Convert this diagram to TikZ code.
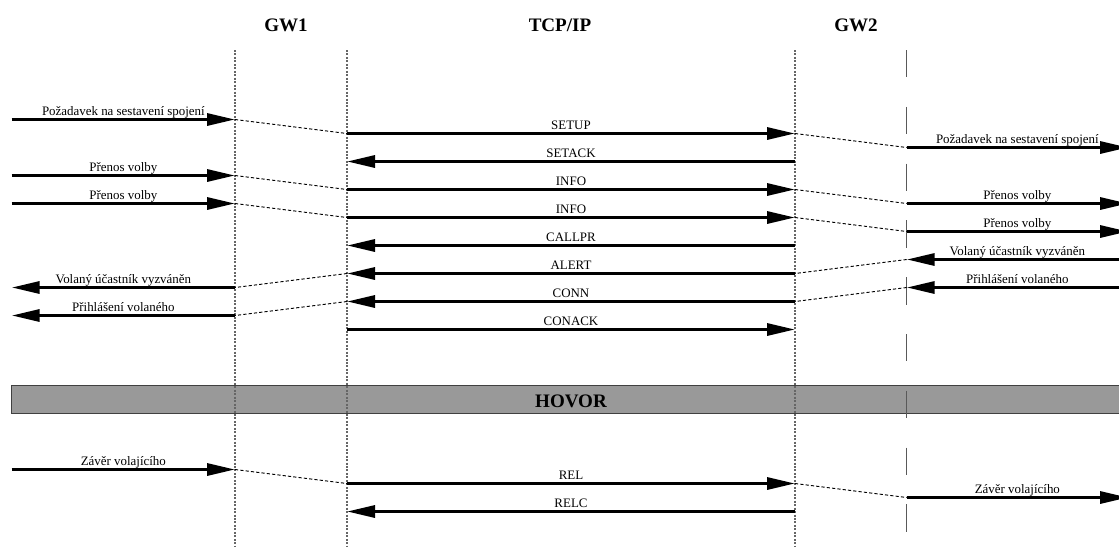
\documentclass[tikz,border=0pt]{standalone}
\usepackage{fontspec}
\setmainfont{Liberation Serif}
\usetikzlibrary{arrows.meta}
\newcommand{\fwdchain}[5]{%
  \coordinate (#1-a) at (11.7,#2);
  \coordinate (#1-b) at (235,#2);
  \coordinate (#1-c) at (347,#2+14);
  \coordinate (#1-d) at (795,#2+14);
  \coordinate (#1-e) at (906.7,#2+28);
  \coordinate (#1-f) at (1128,#2+28);
  \draw[msg] (#1-a) -- node[lbl] {#3} (#1-b);
  \draw[link] (#1-b) -- (#1-c);
  \draw[msg] (#1-c) -- node[lbl] {#4} (#1-d);
  \draw[link] (#1-d) -- (#1-e);
  \draw[msg] (#1-e) -- node[lbl] {#5} (#1-f);
}
\newcommand{\bwdchain}[5]{%
  \coordinate (#1-f) at (1128,#2);
  \coordinate (#1-e) at (906.7,#2);
  \coordinate (#1-d) at (795,#2+14);
  \coordinate (#1-c) at (347,#2+14);
  \coordinate (#1-b) at (235,#2+28);
  \coordinate (#1-a) at (11.7,#2+28);
  \draw[msg] (#1-f) -- node[lbl] {#3} (#1-e);
  \draw[link] (#1-e) -- (#1-d);
  \draw[msg] (#1-d) -- node[lbl] {#4} (#1-c);
  \draw[link] (#1-c) -- (#1-b);
  \draw[msg] (#1-b) -- node[lbl] {#5} (#1-a);
}
\begin{document}
\begin{tikzpicture}[x=0.75pt,y=-0.75pt,
  msg/.style={line width=2.4pt, -{Triangle[length=21pt,width=9pt]}},
  link/.style={line width=0.7pt, dash pattern=on 2.4pt off 1.6pt},
  life/.style={black!60, line width=0.9pt, dash pattern=on 1.5pt off 1.1pt},
  bound/.style={black!65, line width=1.1pt, dash pattern=on 20.6pt off 22pt},
  lbl/.style={anchor=base, yshift=3pt, inner sep=0pt, font=\fontsize{9.7}{11}\selectfont},
  hdr/.style={anchor=base, inner sep=0pt, font=\fontsize{14.3}{16}\selectfont\bfseries},
  band/.style={fill=black!40, draw=black!75, line width=1pt}]
\useasboundingbox (0,0) rectangle (1119,547);
\clip (0,0) rectangle (1119,547);

% headers
\node[hdr] (hgw1) at (286,31) {GW1};
\node[hdr] (htcp) at (560,31) {TCP/IP};
\node[hdr] (hgw2) at (856,31) {GW2};

% HOVOR band
\node[band, minimum width=1124*0.75pt, minimum height=28*0.75pt, inner sep=0pt, anchor=west] (hovor) at (11,399.5) {};
\node[hdr] (hovortxt) at (571,407.5) {HOVOR};

% lifelines
\coordinate (g1t) at (235,50);   \coordinate (g1b) at (235,547);
\coordinate (tpt) at (347,50);   \coordinate (tpb) at (347,547);
\coordinate (g2t) at (795,50);   \coordinate (g2b) at (795,547);
\coordinate (bdt) at (906.7,50); \coordinate (bdb) at (906.7,560);
\draw[life] (g1t) -- (g1b);
\draw[life] (tpt) -- (tpb);
\draw[life] (g2t) -- (g2b);
\draw[bound] (bdt) -- (bdb);

% message chains
\fwdchain{r0}{119.5}{Požadavek na sestavení spojení}{SETUP}{Požadavek na sestavení spojení}
\coordinate (sa1) at (795,161.5); \coordinate (sa2) at (347,161.5);
\draw[msg] (sa1) -- node[lbl] {SETACK} (sa2);
\fwdchain{r4}{175.5}{Přenos volby}{INFO}{Přenos volby}
\fwdchain{r6}{203.5}{Přenos volby}{INFO}{Přenos volby}
\coordinate (cp1) at (795,245.5); \coordinate (cp2) at (347,245.5);
\draw[msg] (cp1) -- node[lbl] {CALLPR} (cp2);
\bwdchain{r10}{259.5}{Volaný účastník vyzváněn}{ALERT}{Volaný účastník vyzváněn}
\bwdchain{r12}{287.5}{Přihlášení volaného}{CONN}{Přihlášení volaného}
\coordinate (ca1) at (347,329.5); \coordinate (ca2) at (795,329.5);
\draw[msg] (ca1) -- node[lbl] {CONACK} (ca2);

\fwdchain{r25}{469.5}{Závěr volajícího}{REL}{Závěr volajícího}
\coordinate (rc1) at (795,511.5); \coordinate (rc2) at (347,511.5);
\draw[msg] (rc1) -- node[lbl] {RELC} (rc2);
\end{tikzpicture}
\end{document}
